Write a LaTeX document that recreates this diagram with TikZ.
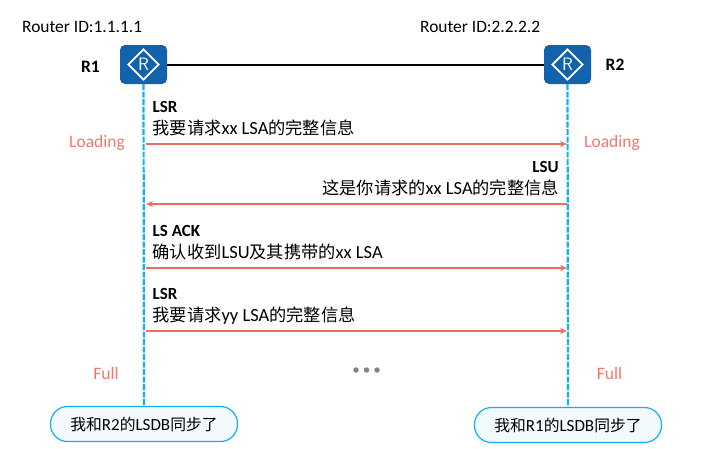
\documentclass[tikz,border=0pt]{standalone}
\usepackage{fontspec}
\setmainfont{Carlito}
\newfontfamily\cjk{Noto Sans CJK SC}[Scale=0.93]
\usetikzlibrary{arrows.meta,shapes.geometric}
\definecolor{routerblue}{HTML}{1262AC}
\definecolor{lifeblue}{HTML}{12B0EE}
\definecolor{salmon}{HTML}{EE6C5E}
\definecolor{statered}{HTML}{F4766A}
\definecolor{bubblefill}{HTML}{F3FAFE}
\newcommand{\msgbold}[1]{{\fontsize{17}{21}\selectfont\bfseries #1}}
\tikzset{
  routerbox/.style={draw=none,fill=routerblue,rounded corners=5pt,minimum width=47pt,minimum height=39pt,inner sep=0pt},
  rmark/.style={draw=white,line width=1.9pt,fill=none,minimum width=31pt,minimum height=31pt,inner sep=0pt,diamond,aspect=1},
  rletter/.style={text=white,font=\fontsize{18}{18}\selectfont\sffamily,inner sep=0pt},
  idtext/.style={font=\fontsize{17.4}{20}\selectfont,text=black,inner sep=0pt},
  rname/.style={font=\fontsize{17.5}{20}\selectfont\bfseries,text=black,inner sep=0pt},
  statetext/.style={font=\fontsize{17.5}{20}\selectfont,text=statered,inner sep=0pt},
  msgtext/.style={font=\fontsize{18.5}{22}\selectfont,text=black,inner sep=0pt,align=left},
  msgtextr/.style={font=\fontsize{18.5}{22}\selectfont,text=black,inner sep=0pt,align=right},
  lifeline/.style={draw=lifeblue,line width=2.2pt,dash pattern=on 6pt off 1.5pt},
  msgarrow/.style={draw=salmon,line width=1.8pt,-{Stealth[length=7pt,width=6pt]}},
  bubble/.style={draw=lifeblue,fill=bubblefill,line width=1.2pt,rounded corners=17pt,minimum width=187pt,minimum height=35pt,inner sep=0pt,font=\fontsize{17}{20}\selectfont},
  dotmark/.style={circle,fill=black!48,minimum size=5.5pt,inner sep=0pt}
}
\begin{document}
\begin{tikzpicture}[x=1pt,y=-1pt]
\useasboundingbox (0,0) rectangle (717,448);
\node[routerbox] (r1) at (143.5,64.5) {};
\node[routerbox] (r2) at (567.5,64.5) {};
\node[rmark] (d1) at (143.5,64.5) {};
\node[rmark] (d2) at (567.5,64.5) {};
\node[rletter] (l1) at (143.5,64.5) {R};
\node[rletter] (l2) at (567.5,64.5) {R};
\draw[black,line width=2pt] (r1) -- (r2);
\node[idtext,anchor=west] (id1) at (22,27) {Router ID:1.1.1.1};
\node[idtext,anchor=west] (id2) at (420,27) {Router ID:2.2.2.2};
\node[rname] (n1) at (90.5,66.5) {R1};
\node[rname] (n2) at (615,64.5) {R2};
\node[bubble] (b1) at (144,424) {{\cjk 我和}R2{\cjk 的}LSDB{\cjk 同步了}};
\node[bubble] (b2) at (568,425) {{\cjk 我和}R1{\cjk 的}LSDB{\cjk 同步了}};
\draw[lifeline] (r1) -- (b1);
\draw[lifeline] (r2) -- (b2);
\coordinate (a1s) at (146,144); \coordinate (a1e) at (567,144);
\coordinate (a2s) at (567,204); \coordinate (a2e) at (146,204);
\coordinate (a3s) at (146,268); \coordinate (a3e) at (567,268);
\coordinate (a4s) at (146,331); \coordinate (a4e) at (567,331);
\draw[msgarrow] (a1s) -- (a1e);
\draw[msgarrow] (a2s) -- (a2e);
\draw[msgarrow] (a3s) -- (a3e);
\draw[msgarrow] (a4s) -- (a4e);
\node[msgtext,anchor=south west] (m1) at (152.5,136) {\msgbold{LSR}\\{\cjk 我要请求}xx LSA{\cjk 的完整信息}};
\node[msgtextr,anchor=south east] (m2) at (559,196) {\msgbold{LSU}\\{\cjk 这是你请求的}xx LSA{\cjk 的完整信息}};
\node[msgtext,anchor=south west] (m3) at (152.5,260) {\msgbold{LS ACK}\\{\cjk 确认收到}LSU{\cjk 及其携带的}xx LSA};
\node[msgtext,anchor=south west] (m4) at (152.5,325) {\msgbold{LSR}\\{\cjk 我要请求}yy LSA{\cjk 的完整信息}};
\node[statetext] (s1) at (97,143) {Loading};
\node[statetext] (s2) at (612,143) {Loading};
\node[statetext] (s3) at (106,373) {Full};
\node[statetext] (s4) at (609.5,373) {Full};
\node[dotmark] (d3) at (356,370) {};
\node[dotmark] (d4) at (366.5,370) {};
\node[dotmark] (d5) at (377,370) {};
\end{tikzpicture}
\end{document}
